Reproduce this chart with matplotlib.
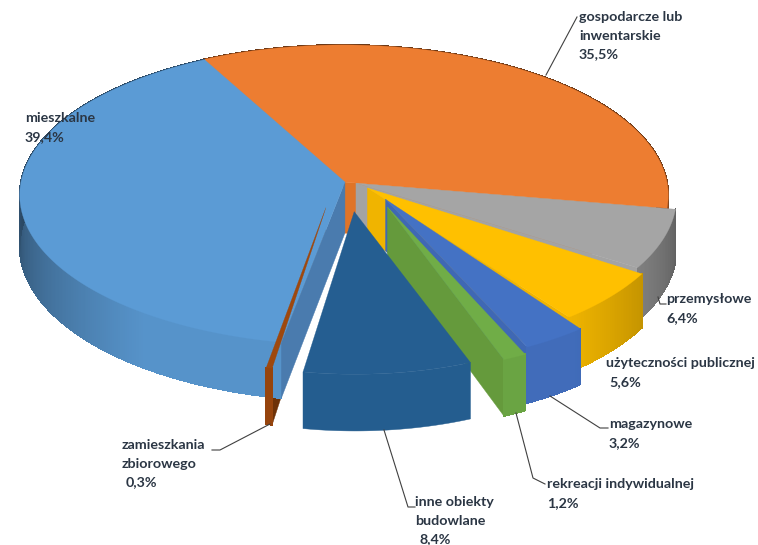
import numpy as np
import matplotlib
matplotlib.use("Agg")
import matplotlib.pyplot as plt
from matplotlib.collections import PolyCollection

# ---- data ----
categories = ["gospodarcze lub\ninwentarskie", "przemysłowe", "użyteczności publicznej", "magazynowe",
              "rekreacji indywidualnej", "inne obiekty\nbudowlane", "zamieszkania\nzbiorowego", "mieszkalne"]
shares = [35.5, 6.4, 5.6, 3.2, 1.2, 8.4, 0.3, 39.4]
share_labels = ["35,5%", "6,4%", "5,6%", "3,2%", "1,2%", "8,4%", "0,3%", "39,4%"]

# ---- style / layout ----
colors = ["#ED7D31", "#A5A5A5", "#FFC000", "#4472C4", "#70AD47", "#255E91", "#9E480E", "#5B9BD5"]
cut_colors = ["#DF7428", "#A3A3A3", "#F0B400", "#3F68B4", "#659A3C", "#255E91", "#6E3208", "#4A7BAE"]
explode_u = [0, .040, .075, .130, .135, .034, -.052, .006]
explode_v = [0, -.008, -.040, -.115, -.165, -.195, -.170, 0]
radius_u = [1, .985, .955, .91, .88, .90, .90, 1]
radius_v = [1, .99, 1, .99, .98, .965, .97, 1]
flat_wall = [False, False, False, False, False, True, False, False]
START = 117.8
CX, CY, AX, BY, K, DEPTH = 343, 182, 324, 149, .087, 51
TEXT = "#2B3644"
LINE = "#404040"


def project(u, v, z=0.0):
    w = 1 + K * v
    return CX + AX * u / w, CY - BY * v / w + z * DEPTH / w


def shade(theta):
    d = np.abs(((theta + 90 + 180) % 360) - 180)
    return np.clip(.95 - .45 * np.clip(d - 35, 0, None) / 55, .45, .95)


fig = plt.figure(figsize=(7.58, 5.45), dpi=100)
ax = fig.add_axes([0, 0, 1, 1])
ax.set_xlim(0, 758)
ax.set_ylim(545, 0)
ax.axis("off")

ends = START - np.cumsum(shares) * 3.6
starts = np.r_[START, ends[:-1]]


def rim(i):
    n = max(int(abs(starts[i] - ends[i]) / .5), 4)
    t = np.linspace(starts[i], ends[i], n)
    return t, explode_u[i] + radius_u[i] * np.cos(np.radians(t)), explode_v[i] + radius_v[i] * np.sin(np.radians(t))


def draw_cut(i, angle, z_order):
    r = np.radians(angle)
    u0, v0 = explode_u[i], explode_v[i]
    u1, v1 = u0 + radius_u[i] * np.cos(r), v0 + radius_v[i] * np.sin(r)
    pts = [project(u0, v0), project(u1, v1), project(u1, v1, 1), project(u0, v0, 1)]
    ax.fill(*zip(*pts), color=cut_colors[i], lw=.3, zorder=z_order)


def draw_wall(i, z_order):
    t, u, v = rim(i)
    x0, y0 = project(u, v)
    x1, y1 = project(u, v, 1)
    base = np.array(matplotlib.colors.to_rgb(colors[i]))
    if flat_wall[i]:
        ax.fill(np.r_[x0, x1[::-1]], np.r_[y0, y1[::-1]], color=base * .985, lw=.3, zorder=z_order)
        return
    quads, cols = [], []
    for k in range(len(t) - 1):
        quads.append([(x0[k], y0[k]), (x0[k + 1], y0[k + 1]), (x1[k + 1], y1[k + 1]), (x1[k], y1[k])])
        cols.append(base * shade((t[k] + t[k + 1]) / 2))
    ax.add_collection(PolyCollection(quads, facecolors=cols, edgecolors=cols, linewidths=.6,
                                     antialiaseds=False, zorder=z_order))
    for k in range(len(t) - 1):
        ax.plot(x1[k:k + 2], y1[k:k + 2], color=cols[k], lw=.8, solid_capstyle="butt", zorder=z_order)


def draw_top(i, z_order):
    t, u, v = rim(i)
    x, y = project(u, v)
    x0, y0 = project(explode_u[i], explode_v[i])
    ax.fill(np.r_[x0, x], np.r_[y0, y], color=colors[i], lw=.2, zorder=z_order)


# painter's order, back to front
z = 1
for i in [0, 1, 2, 3, 4]:
    draw_cut(i, ends[i], z); draw_wall(i, z + 1); draw_top(i, z + 2); z += 3
draw_cut(6, starts[6], z); z += 1
draw_wall(7, z); draw_cut(7, starts[7], z + 1); draw_top(7, z + 2); z += 3
draw_wall(6, z); draw_top(6, z + 1); z += 2
draw_wall(5, z); draw_top(5, z + 1); z += 2

# ---- labels ----
label_fs = 10.3
label_font = "Lato"
label_pos = [(579, 17), (666, 299), (606, 363), (609, 424), (547, 484), (415, 502), (122, 445), (25, 118)]
pct_dx = [0, 0, 3, 0, 0, 4, 4, 0]
LH = 18.7
for name, pct, (x, y), dx in zip(categories, share_labels, label_pos, pct_dx):
    lines = name.split("\n")
    for k, ln in enumerate(lines):
        ax.text(x, y + k * LH, ln, ha="left", va="center", fontsize=label_fs, family=label_font,
                weight="bold", color=TEXT, zorder=50)
    ax.text(x + dx, y + len(lines) * LH, pct, ha="left", va="center", fontsize=label_fs, family=label_font,
            weight="bold", color=TEXT, zorder=50)

leaders = [
    [(546, 75), (577, 17)],
    [(658, 297), (660, 304), (666, 304)],
    [(550, 396), (600, 428), (608, 428)],
    [(516, 413), (533, 478), (545, 484)],
    [(384, 430), (408, 507), (415, 507)],
    [(270, 424), (220, 450), (212, 450)],
]
for seg in leaders:
    ax.plot(*zip(*seg), color=LINE, lw=.8, zorder=40)

fig.savefig("out.png", dpi=100)
